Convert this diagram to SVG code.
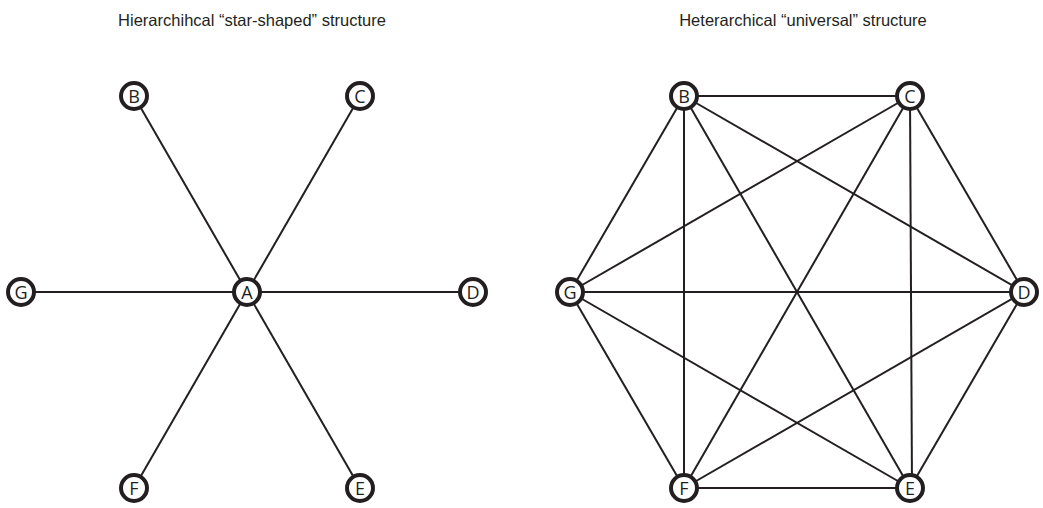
<svg xmlns="http://www.w3.org/2000/svg" width="1043" height="508" viewBox="0 0 1043 508">
<style>
.title{font-family:"Liberation Sans",Arial,sans-serif;font-size:16.5px;fill:#231f20;text-anchor:middle}
.edge{stroke:#231f20;stroke-width:2;fill:none}
.node circle{fill:#fff;stroke:#231f20;stroke-width:4}
.node text{font-family:"Open Sans","Liberation Sans",sans-serif;font-size:18px;fill:#231f20;text-anchor:middle;dominant-baseline:central}
</style>
<rect width="1043" height="508" fill="#fff"/>
<text class="title" x="252" y="26">Hierarchihcal “star-shaped” structure</text>
<text class="title" x="803" y="26">Heterarchical “universal” structure</text>
<g id="connectors">
<line class="edge" x1="247" y1="292" x2="134" y2="96"/>
<line class="edge" x1="247" y1="292" x2="360" y2="96"/>
<line class="edge" x1="247" y1="292" x2="21" y2="292"/>
<line class="edge" x1="247" y1="292" x2="473" y2="292"/>
<line class="edge" x1="247" y1="292" x2="134" y2="488"/>
<line class="edge" x1="247" y1="292" x2="360" y2="488"/>
<line class="edge" x1="684" y1="96" x2="910" y2="96"/>
<line class="edge" x1="684" y1="96" x2="570" y2="292"/>
<line class="edge" x1="684" y1="96" x2="1024" y2="292"/>
<line class="edge" x1="684" y1="96" x2="684" y2="488"/>
<line class="edge" x1="684" y1="96" x2="910" y2="488"/>
<line class="edge" x1="910" y1="96" x2="570" y2="292"/>
<line class="edge" x1="910" y1="96" x2="1024" y2="292"/>
<line class="edge" x1="910" y1="96" x2="684" y2="488"/>
<line class="edge" x1="910" y1="96" x2="912" y2="488"/>
<line class="edge" x1="570" y1="292" x2="1024" y2="292"/>
<line class="edge" x1="570" y1="292" x2="684" y2="488"/>
<line class="edge" x1="570" y1="292" x2="910" y2="488"/>
<line class="edge" x1="1024" y1="292" x2="684" y2="488"/>
<line class="edge" x1="1024" y1="292" x2="910" y2="488"/>
<line class="edge" x1="684" y1="488" x2="910" y2="488"/>
</g>
<g id="star-A" class="node"><circle cx="247" cy="292" r="13"/><text x="247" y="292">A</text></g>
<g id="star-B" class="node"><circle cx="134" cy="96" r="13"/><text x="134" y="96">B</text></g>
<g id="star-C" class="node"><circle cx="360" cy="96" r="13"/><text x="360" y="96">C</text></g>
<g id="star-D" class="node"><circle cx="473" cy="292" r="13"/><text x="473" y="292">D</text></g>
<g id="star-E" class="node"><circle cx="360" cy="488" r="13"/><text x="360" y="488">E</text></g>
<g id="star-F" class="node"><circle cx="134" cy="488" r="13"/><text x="134" y="488">F</text></g>
<g id="star-G" class="node"><circle cx="21" cy="292" r="13"/><text x="21" y="292">G</text></g>
<g id="uni-B" class="node"><circle cx="684" cy="96" r="13"/><text x="684" y="96">B</text></g>
<g id="uni-C" class="node"><circle cx="910" cy="96" r="13"/><text x="910" y="96">C</text></g>
<g id="uni-D" class="node"><circle cx="1024" cy="292" r="13"/><text x="1024" y="292">D</text></g>
<g id="uni-E" class="node"><circle cx="910" cy="488" r="13"/><text x="910" y="488">E</text></g>
<g id="uni-F" class="node"><circle cx="684" cy="488" r="13"/><text x="684" y="488">F</text></g>
<g id="uni-G" class="node"><circle cx="570" cy="292" r="13"/><text x="570" y="292">G</text></g>
</svg>
